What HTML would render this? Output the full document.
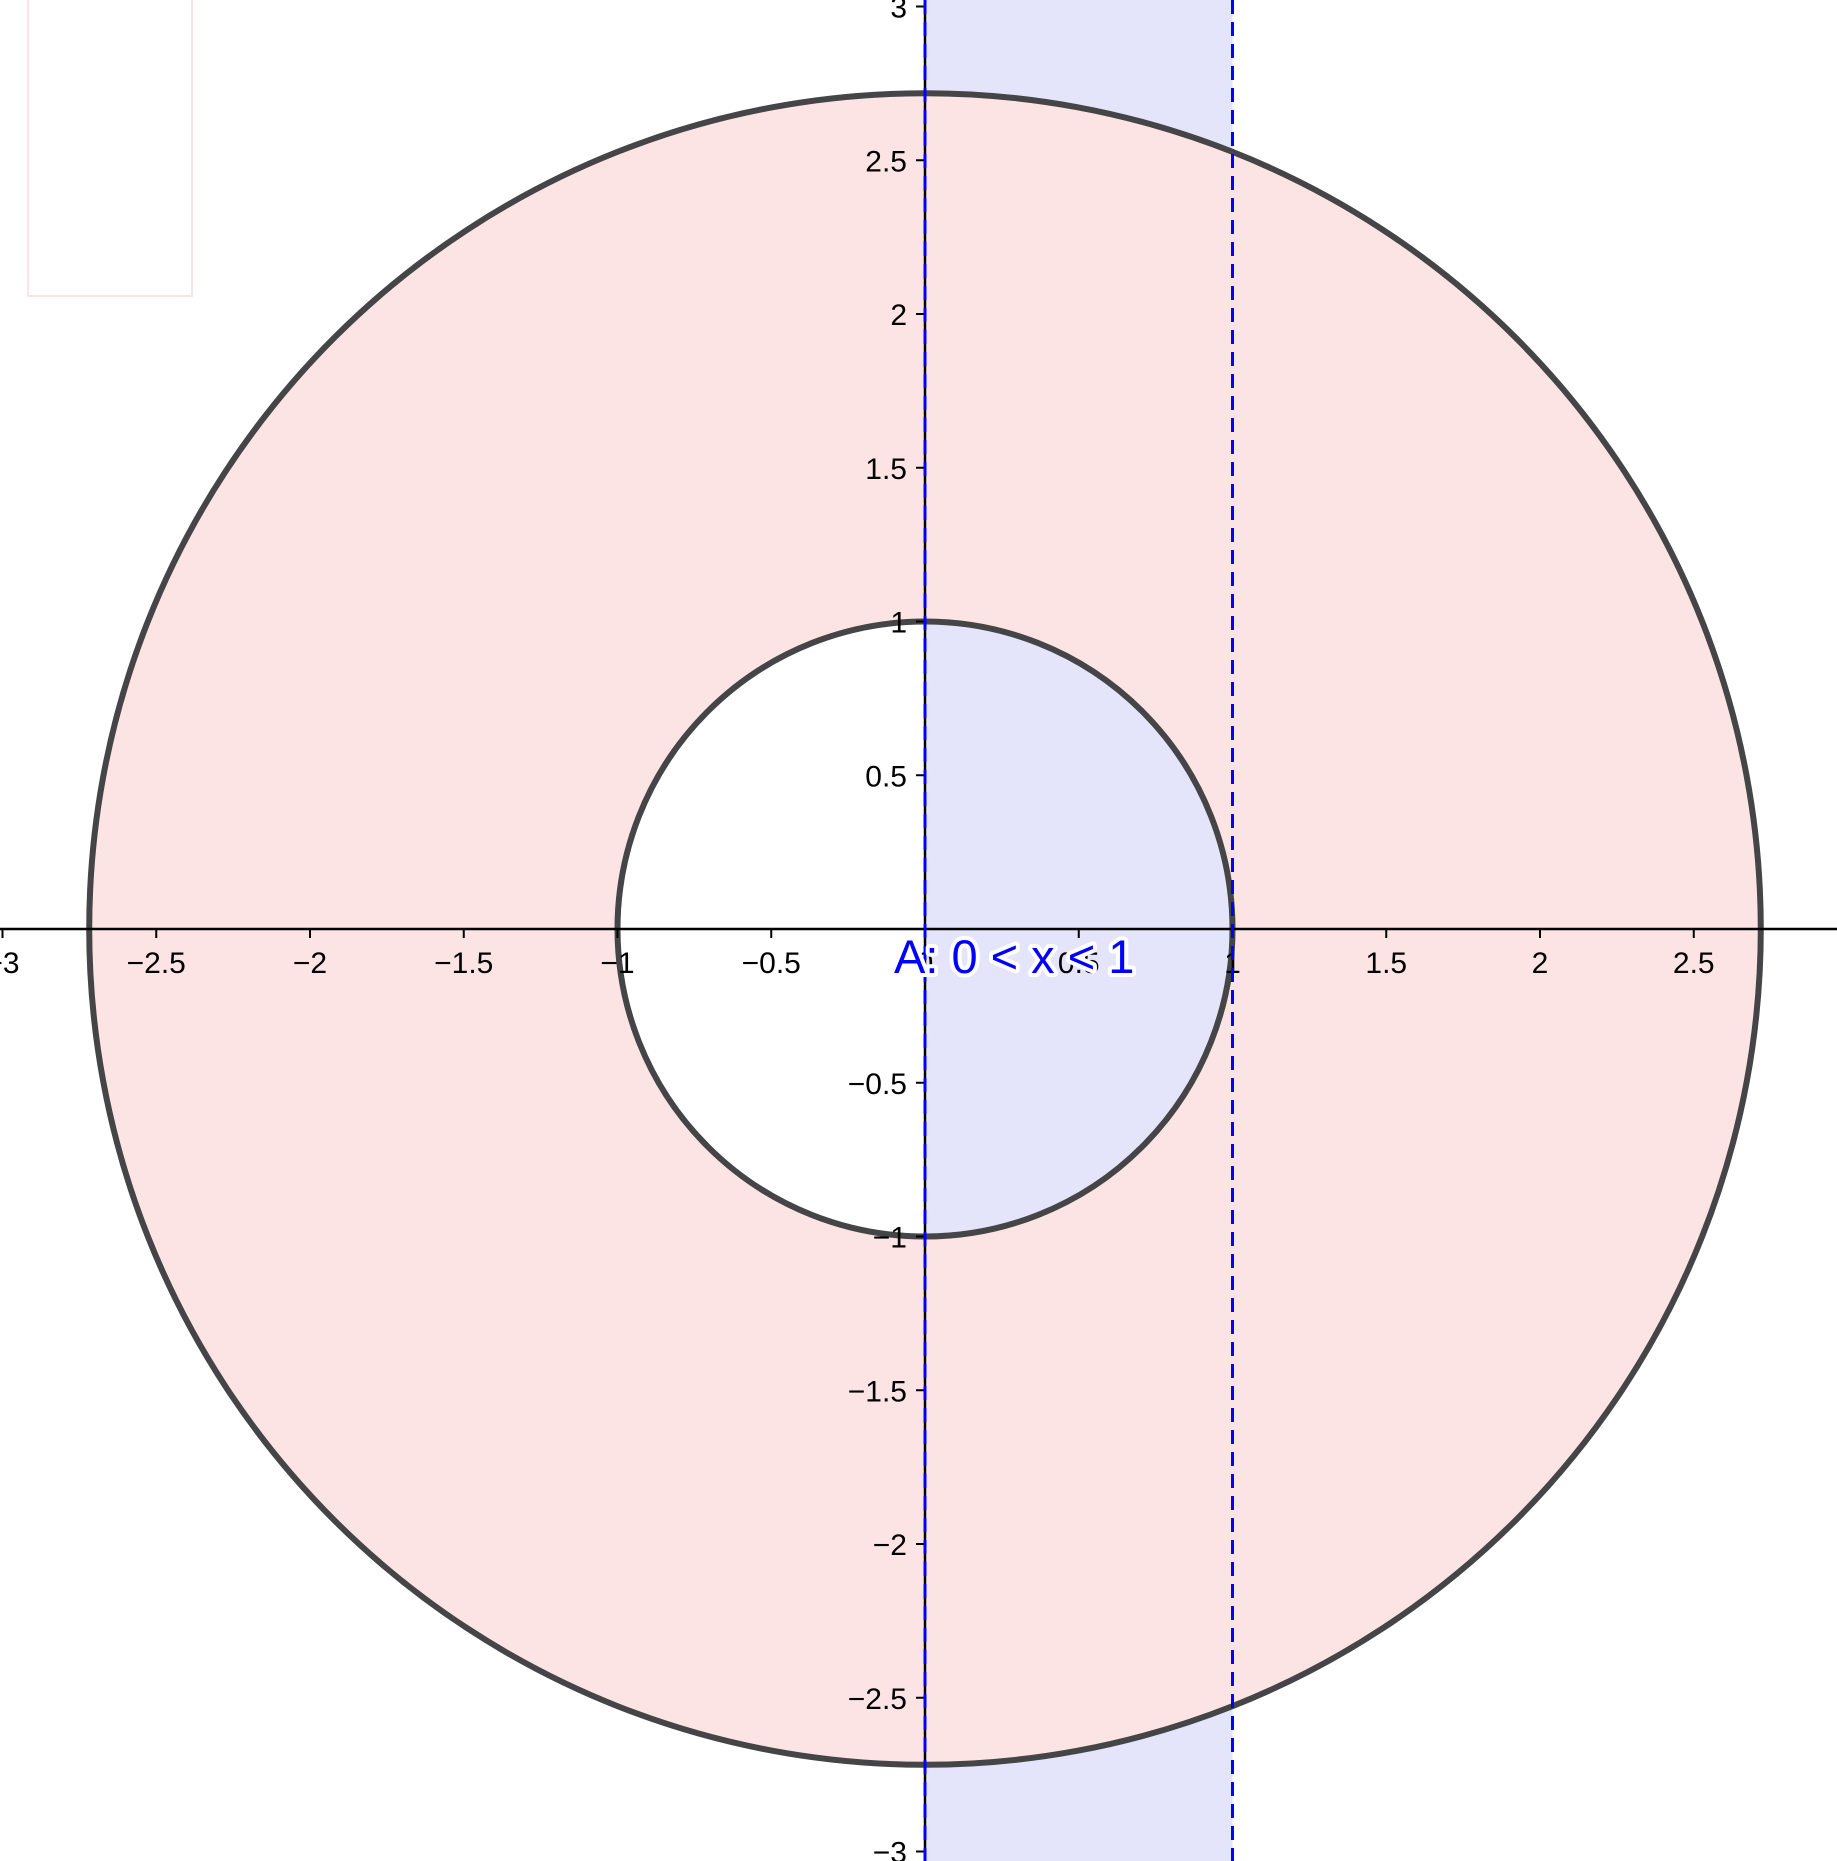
<!DOCTYPE html>
<html><head><meta charset="utf-8"><style>
html,body{margin:0;padding:0;background:#fff;}
svg{display:block;font-family:"Liberation Sans",sans-serif;}
</style></head><body>
<svg id="chart" width="1837" height="1861" viewBox="0 0 1837 1861" xmlns="http://www.w3.org/2000/svg">
<rect x="28" y="-2" width="164" height="298" fill="#fff" stroke="#fde4e4" stroke-width="2"/>
<g id="marks"></g>
<g id="axes"></g>
<text x="894" y="973" font-size="47" fill="#0000ff" stroke="#fff" stroke-width="8" paint-order="stroke" stroke-linejoin="round">A: 0 &lt; x &lt; 1</text>
</svg>
<script>
const xTicks = [-3,-2.5,-2,-1.5,-1,-0.5,0,0.5,1,1.5,2,2.5];
const yTicks = [3,2.5,2,1.5,1,0.5,-0.5,-1,-1.5,-2,-2.5,-3];
const radii = [1, 2.718];
const strip = [0, 1];
const NS = "http://www.w3.org/2000/svg";
const cx = 925, cy = 929, u = 307.5;
const X = v => cx + v*u, Y = v => cy - v*u;
function mk(tag, attrs, parent){const e=document.createElementNS(NS,tag);for(const k in attrs)e.setAttribute(k,attrs[k]);parent.appendChild(e);return e;}
const marks = document.getElementById('marks'), axes = document.getElementById('axes');
const s = mk('rect',{x:X(strip[0]),y:0,width:X(strip[1])-X(strip[0]),height:1861,fill:'#e4e4fa'},marks);


const ro = radii[1]*u, ri = radii[0]*u;
const ann = mk('path',{d:`M${cx-ro},${cy}a${ro},${ro} 0 1,0 ${2*ro},0a${ro},${ro} 0 1,0 ${-2*ro},0Z M${cx-ri},${cy}a${ri},${ri} 0 1,0 ${2*ri},0a${ri},${ri} 0 1,0 ${-2*ri},0Z`,fill:'#fce4e4','fill-rule':'evenodd'},marks);


radii.forEach((r,i)=>{
  const c = mk('circle',{cx:cx,cy:cy,r:r*u,fill:'none',stroke:'#454548','stroke-width':6},marks);
  
  
});
const xa = mk('line',{x1:0,x2:1837,y1:cy,y2:cy,stroke:'#000','stroke-width':2.5},axes);


const ya = mk('line',{x1:cx,x2:cx,y1:0,y2:1861,stroke:'#000','stroke-width':2.5},axes);


const fmt = v => (v<0?'\u2212':'')+Math.abs(v);
xTicks.forEach(v=>{
  const t = mk('line',{x1:X(v),x2:X(v),y1:cy,y2:cy+9,stroke:'#000','stroke-width':2},axes);
  
  
  const l = mk('text',{x:X(v),y:cy+44,'font-size':30,'text-anchor':'middle',fill:'#000'},axes);
  
  
  l.textContent = fmt(v);
});
yTicks.forEach(v=>{
  const t = mk('line',{x1:cx-9,x2:cx,y1:Y(v),y2:Y(v),stroke:'#000','stroke-width':2},axes);
  
  
  const l = mk('text',{x:cx-18,y:Y(v)+11,'font-size':30,'text-anchor':'end',fill:'#000'},axes);
  
  
  l.textContent = fmt(v);
});
strip.forEach(v=>{
  const d = mk('line',{x1:X(v),x2:X(v),y1:0,y2:1861,stroke:'#0000ff','stroke-width':3,'stroke-dasharray':'14 8'},axes);
  
  
});
</script>
</body></html>
